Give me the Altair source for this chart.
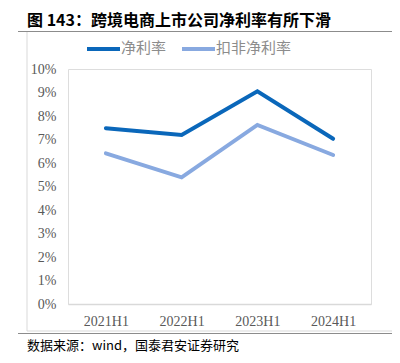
import altair as alt
import pandas as pd

periods = ["2021H1", "2022H1", "2023H1", "2024H1"]
net_margin = [7.48, 7.19, 9.05, 7.03]
adj_net_margin = [6.41, 5.39, 7.62, 6.34]
series_names = ["净利率", "扣非净利率"]
colors = ["#0A67BA", "#88A9E0"]

rows = []
for p, a, b in zip(periods, net_margin, adj_net_margin):
    rows.append({"period": p, "series": series_names[0], "value": a})
    rows.append({"period": p, "series": series_names[1], "value": b})
df = pd.DataFrame(rows)

W, H = 303, 235
PL, PT = 60, 61

x = alt.X("period:N", sort=periods, title=None,
          scale=alt.Scale(paddingInner=0, paddingOuter=0.5),
          axis=alt.Axis(labelAngle=0, labelFont="Liberation Serif", labelFontSize=14,
                        labelColor="#595959", domainColor="#D9D9D9", domainWidth=1.5,
                        ticks=False, labelPadding=10, grid=False))
y = alt.Y("value:Q", title=None,
          scale=alt.Scale(domain=[0, 10], nice=False),
          axis=alt.Axis(values=list(range(0, 11)), labelExpr="datum.value + '%'",
                        labelFont="Liberation Serif", labelFontSize=14, labelColor="#595959",
                        domain=False, ticks=False, grid=False, labelPadding=12))

lines = alt.Chart(df).mark_line(strokeWidth=4, strokeCap="round", strokeJoin="miter").encode(
    x=x, y=y,
    color=alt.Color("series:N", scale=alt.Scale(domain=series_names, range=colors), legend=None),
)

def txt(s, xv, yv, size, color="#000000", weight="normal", font="Noto Sans CJK SC", align="left"):
    return alt.Chart(pd.DataFrame({"t": [s]})).mark_text(
        align=align, baseline="middle", fontSize=size, fontWeight=weight, font=font, color=color
    ).encode(text="t:N", x=alt.value(xv), y=alt.value(yv))

def rule(x1, y1, x2, y2, color, w=1):
    return alt.Chart(pd.DataFrame({"a": [0]})).mark_rule(color=color, strokeWidth=w).encode(
        x=alt.value(x1), x2=alt.value(x2), y=alt.value(y1), y2=alt.value(y2))

ox, oy = 68, 69  # page coords of plot origin
def P(px, py):
    return px - ox, py - oy

layers = []
# title
tx, ty = P(27, 21)
layers.append(txt("图 143：跨境电商上市公司净利率有所下滑", tx, ty, 16, weight="bold"))
# title underline
a, b = P(18, 31.5); c, d = P(400, 31.5)
layers.append(rule(a, b, c, d, "#8C8C8C", 1.2))
# box
a, b = P(27, 32); c, d = P(27, 331)
layers.append(rule(a, b, c, d, "#D9D9D9", 1))
a, b = P(393, 32); c, d = P(393, 331)
layers.append(rule(a, b, c, d, "#D9D9D9", 1))
a, b = P(27, 331); c, d = P(393, 331)
layers.append(rule(a, b, c, d, "#D9D9D9", 1))
a, b = P(18, 333.5); c, d = P(400, 333.5)
layers.append(rule(a, b, c, d, "#8C8C8C", 1.2))
# legend
a, b = P(87, 49); c, d = P(120, 49)
layers.append(rule(a, b, c, d, colors[0], 4))
a, b = P(121, 48)
layers.append(txt(series_names[0], a, b, 15, color="#8C8C8C"))
a, b = P(182, 49); c, d = P(215, 49)
layers.append(rule(a, b, c, d, colors[1], 4))
a, b = P(216, 48)
layers.append(txt(series_names[1], a, b, 15, color="#8C8C8C"))
# footer
a, b = P(27, 346)
layers.append(txt("数据来源：wind，国泰君安证券研究", a, b, 13))

chart = alt.layer(lines, *layers).properties(
    width=W, height=H,
    padding={"left": PL, "top": PT, "right": 384 - PL - W, "bottom": 347 - PT - H},
    autosize=alt.AutoSizeParams(type="none"),
).configure_view(stroke=None).configure(background="white")

chart.save("out.html", embed_options={"renderer": "svg", "actions": False})
